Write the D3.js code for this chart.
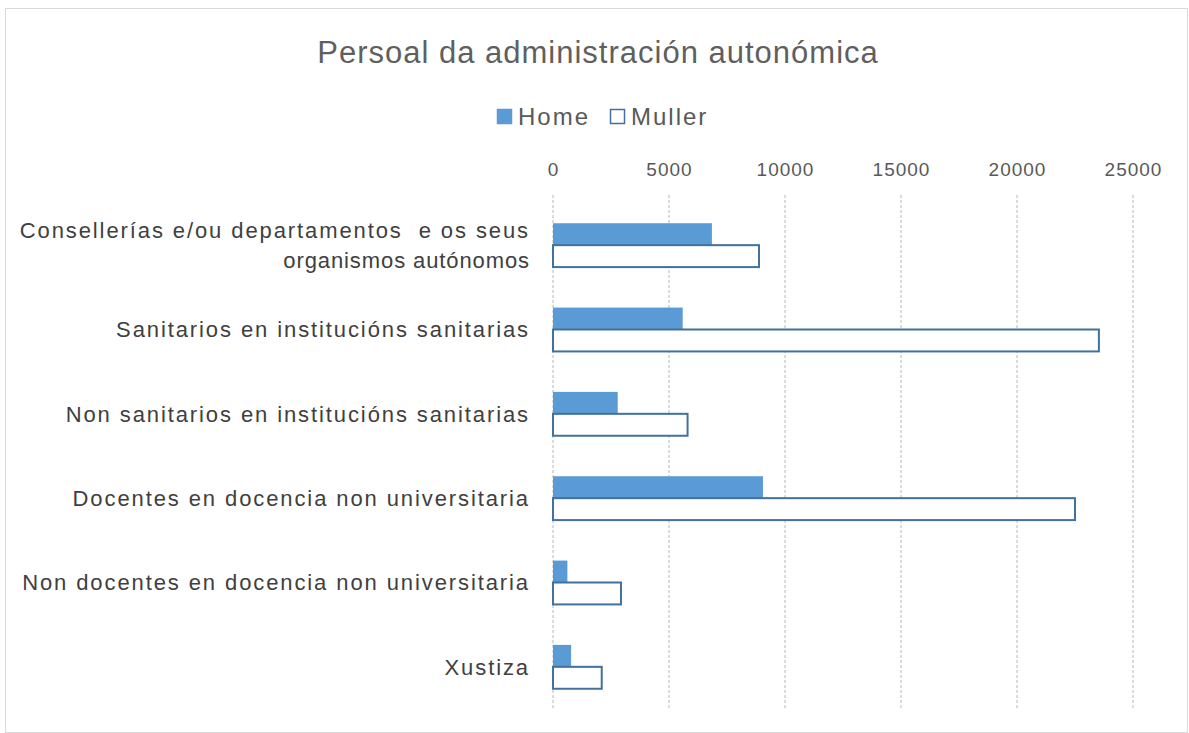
<!DOCTYPE html>
<html>
<head>
<meta charset="utf-8">
<script src="https://cdn.jsdelivr.net/npm/d3@7"></script>
<style>
  body { margin: 0; background: #fff; }
  svg { display: block; }
</style>
</head>
<body>
<svg id="chart" width="1189" height="733"></svg>
<script>
const categories = [
  ["Consellerías e/ou departamentos  e os seus", "organismos autónomos"],
  ["Sanitarios en institucións sanitarias"],
  ["Non sanitarios en institucións sanitarias"],
  ["Docentes en docencia non universitaria"],
  ["Non docentes en docencia non universitaria"],
  ["Xustiza"]
];
const homeValues = [6850, 5590, 2790, 9050, 620, 780];
const mullerValues = [8880, 23530, 5800, 22500, 2930, 2100];
const seriesNames = ["Home", "Muller"];
const xTicks = [0, 5000, 10000, 15000, 20000, 25000];

const svg = d3.select('#chart');
const margin = {top: 203, right: 56, bottom: 24, left: 553};
const width = 1189, height = 733;
const font = 'Liberation Sans, Arial, sans-serif';

// frame
svg.append('rect')
    .attr('x', 5.5).attr('y', 8.5)
    .attr('width', 1182).attr('height', 724)
    .attr('fill', '#fff')
    .attr('stroke', '#d9d9d9')
    .attr('stroke-width', 1);

// title
svg.append('text')
    .attr('x', 598)
    .attr('y', 63)
    .attr('text-anchor', 'middle')
    .style('font-family', font)
    .style('font-size', '31px')
    .style('letter-spacing', '1px')
    .style('fill', '#5f5f5f')
    .text('Persoal da administración autonómica');

let x = d3.scaleLinear()
    .domain([0, 25000])
    .range([margin.left, 1133]);

let y = d3.scaleBand()
    .domain(d3.range(categories.length))
    .range([margin.top, height - margin.bottom])
    .paddingInner(0.48)
    .paddingOuter(0.24);

let ySub = d3.scaleBand()
    .domain(seriesNames)
    .range([0, y.bandwidth()]);

// gridlines
svg.append('g')
    .selectAll('line')
    .data(xTicks)
    .join('line')
    .attr('x1', d => x(d)).attr('x2', d => x(d))
    .attr('y1', margin.top - 8).attr('y2', height - margin.bottom)
    .attr('stroke', '#d0d0d0')
    .attr('stroke-width', 1.5)
    .attr('stroke-dasharray', '3,2');

// top axis
const xAxis = d3.axisTop(x).tickValues(xTicks).tickFormat(d3.format('d')).tickSize(0);
svg.append('g')
    .attr('transform', `translate(0, 179)`)
    .call(xAxis)
    .call(g => g.select('.domain').remove())
    .selectAll('text')
    .style('font-family', font)
    .style('font-size', '19px')
    .style('letter-spacing', '1px')
    .style('fill', '#595959');

// bars
const bars = svg.append('g');
bars.selectAll('rect.home')
    .data(homeValues)
    .join('rect')
    .attr('class', 'home')
    .attr('x', x(0))
    .attr('y', (d, i) => y(i) + ySub('Home'))
    .attr('width', d => x(d) - x(0))
    .attr('height', ySub.bandwidth())
    .attr('fill', '#5b9bd5');

bars.selectAll('rect.muller')
    .data(mullerValues)
    .join('rect')
    .attr('class', 'muller')
    .attr('x', x(0))
    .attr('y', (d, i) => y(i) + ySub('Muller'))
    .attr('width', d => x(d) - x(0))
    .attr('height', ySub.bandwidth())
    .attr('fill', '#fff')
    .attr('stroke', '#41719c')
    .attr('stroke-width', 2);

// category labels
const labels = svg.append('g')
    .selectAll('text')
    .data(categories)
    .join('text')
    .attr('text-anchor', 'end')
    .attr('y', (d, i) => y(i) + y.bandwidth() / 2)
    .style('font-family', font)
    .style('font-size', '22px')
    .style('letter-spacing', '1.9px')
    .style('white-space', 'pre')
    .style('fill', '#404040');

labels.each(function(d) {
    const t = d3.select(this);
    const n = d.length;
    d.forEach((line, j) => {
        t.append('tspan')
            .attr('x', 530)
            .attr('dy', j === 0 ? `${0.35 - (n - 1) * 0.68}em` : '1.36em')
            .style('letter-spacing', j === 0 ? null : '0.9px')
            .text(line);
    });
});

// legend
const legend = svg.append('g').attr('transform', 'translate(497, 109)');
seriesNames.forEach((name, i) => {
    const g = legend.append('g').attr('transform', `translate(${i * 113}, 0)`);
    g.append('rect')
        .attr('x', 0.5).attr('y', 0.5)
        .attr('width', 14).attr('height', 14)
        .attr('fill', i === 0 ? '#5b9bd5' : '#fff')
        .attr('stroke', i === 0 ? '#5b9bd5' : '#41719c')
        .attr('stroke-width', 1.5);
    g.append('text')
        .attr('x', 21)
        .attr('y', 16)
        .style('font-family', font)
        .style('font-size', '24px')
        .style('letter-spacing', '2px')
        .style('fill', '#595959')
        .text(name);
});
</script>
</body>
</html>
